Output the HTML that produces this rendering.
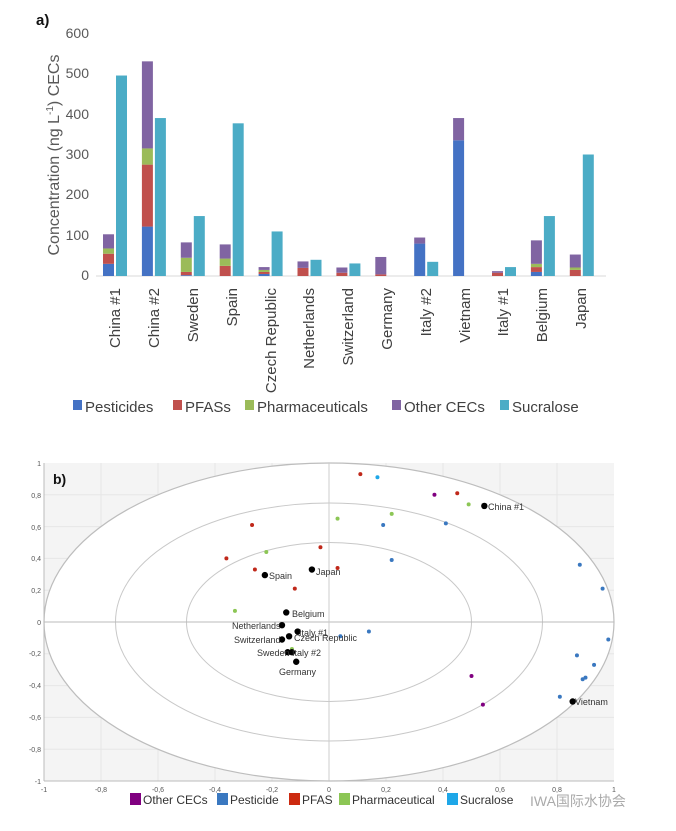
<!DOCTYPE html>
<html><head><meta charset="utf-8"><style>
html,body{margin:0;padding:0;background:#fff;}
svg{display:block;font-family:"Liberation Sans",sans-serif;}
</style></head><body>
<svg id="s" width="676" height="831" xmlns="http://www.w3.org/2000/svg">
<text x="36" y="25" font-size="15" font-weight="bold" fill="#111">a)</text>
<g font-size="14" fill="#595959" text-anchor="end">
<text x="89" y="38">600</text><text x="89" y="78">500</text><text x="89" y="119">400</text>
<text x="89" y="159">300</text><text x="89" y="199">200</text><text x="89" y="240">100</text><text x="89" y="280">0</text>
</g>
<text transform="translate(59,155) rotate(-90)" font-size="16" fill="#595959" text-anchor="middle">Concentration (ng L<tspan font-size="10" dy="-6">-1</tspan><tspan dy="6">) CECs</tspan></text>
<line x1="96" y1="276" x2="606" y2="276" stroke="#d9d9d9"/>
<g id="bars"></g>
<g font-size="15" fill="#404040" text-anchor="end" id="xl">
<text transform="translate(120,288) rotate(-90)">China #1</text>
<text transform="translate(159,288) rotate(-90)">China #2</text>
<text transform="translate(198,288) rotate(-90)">Sweden</text>
<text transform="translate(237,288) rotate(-90)">Spain</text>
<text transform="translate(276,288) rotate(-90)">Czech Republic</text>
<text transform="translate(314,288) rotate(-90)">Netherlands</text>
<text transform="translate(353,288) rotate(-90)">Switzerland</text>
<text transform="translate(392,288) rotate(-90)">Germany</text>
<text transform="translate(431,288) rotate(-90)">Italy #2</text>
<text transform="translate(470,288) rotate(-90)">Vietnam</text>
<text transform="translate(508,288) rotate(-90)">Italy #1</text>
<text transform="translate(547,288) rotate(-90)">Belgium</text>
<text transform="translate(586,288) rotate(-90)">Japan</text>
</g>
<g font-size="15" fill="#404040">
<rect x="73" y="400" width="9" height="10" fill="#4472c4"/><text x="85" y="412">Pesticides</text>
<rect x="173" y="400" width="9" height="10" fill="#c0504d"/><text x="185" y="412">PFASs</text>
<rect x="245" y="400" width="9" height="10" fill="#9bbb59"/><text x="257" y="412">Pharmaceuticals</text>
<rect x="392" y="400" width="9" height="10" fill="#8064a2"/><text x="404" y="412">Other CECs</text>
<rect x="500" y="400" width="9" height="10" fill="#4bacc6"/><text x="512" y="412">Sucralose</text>
</g>

<!-- chart b -->
<rect x="44" y="463" width="570" height="318" fill="#f4f4f4"/>
<g stroke="#e6e6e6" stroke-width="1" id="grid"></g>
<ellipse cx="329" cy="622" rx="285" ry="159" fill="#fff" stroke="#bdbdbd" stroke-width="1.2"/>
<ellipse cx="329" cy="622" rx="213.5" ry="119" fill="none" stroke="#c8c8c8"/>
<ellipse cx="329" cy="622" rx="142.5" ry="79.5" fill="none" stroke="#c8c8c8"/>
<line x1="44" y1="622" x2="614" y2="622" stroke="#bbb"/>
<line x1="329" y1="463" x2="329" y2="781" stroke="#ccc"/>
<line x1="44" y1="463" x2="44" y2="781" stroke="#bbb"/>
<line x1="44" y1="781" x2="614" y2="781" stroke="#bbb"/>
<text x="53" y="484" font-size="14" font-weight="bold" fill="#111">b)</text>
<g font-size="7" fill="#555" text-anchor="end">
<text x="41" y="466">1</text><text x="41" y="498">0,8</text><text x="41" y="530">0,6</text><text x="41" y="561">0,4</text>
<text x="41" y="593">0,2</text><text x="41" y="625">0</text><text x="41" y="656">-0,2</text><text x="41" y="688">-0,4</text>
<text x="41" y="720">-0,6</text><text x="41" y="752">-0,8</text><text x="41" y="784">-1</text>
</g>
<g font-size="7" fill="#555" text-anchor="middle">
<text x="44" y="792">-1</text><text x="101" y="792">-0,8</text><text x="158" y="792">-0,6</text><text x="215" y="792">-0,4</text>
<text x="272" y="792">-0,2</text><text x="329" y="792">0</text><text x="386" y="792">0,2</text><text x="443" y="792">0,4</text>
<text x="500" y="792">0,6</text><text x="557" y="792">0,8</text><text x="614" y="792">1</text>
</g>
<g id="pts"></g>
<g font-size="9" fill="#333">
<text x="488" y="510">China #1</text>
<text x="316" y="575">Japan</text>
<text x="269" y="579">Spain</text>
<text x="292" y="617">Belgium</text>
<text x="232" y="629">Netherlands</text>
<text x="299" y="636">Italy #1</text>
<text x="294" y="641">Czech Republic</text>
<text x="234" y="643">Switzerland</text>
<text x="257" y="656">Sweden</text>
<text x="292" y="656">Italy #2</text>
<text x="279" y="675">Germany</text>
<text x="575" y="705">Vietnam</text>
</g>
<g font-size="12" fill="#333">
<rect x="130" y="793" width="11" height="12" fill="#800080"/><text x="143" y="804">Other CECs</text>
<rect x="217" y="793" width="11" height="12" fill="#3a78c0"/><text x="230" y="804">Pesticide</text>
<rect x="289" y="793" width="11" height="12" fill="#cc2a10"/><text x="302" y="804">PFAS</text>
<rect x="339" y="793" width="11" height="12" fill="#8cc655"/><text x="352" y="804">Pharmaceutical</text>
<rect x="447" y="793" width="11" height="12" fill="#1ea7e8"/><text x="460" y="804">Sucralose</text>
<text x="530" y="806" font-size="14" fill="#aaa" font-family="'Liberation Sans','Noto Sans CJK SC',sans-serif">IWA国际水协会</text>
</g>
</svg>
<script>
var NS="http://www.w3.org/2000/svg";
function el(p,t,a){var e=document.createElementNS(NS,t);for(var k in a)e.setAttribute(k,a[k]);p.appendChild(e);return e;}
var cols=["#4472c4","#c0504d","#9bbb59","#8064a2"];
var d=[[30,25,13,35,495],[122,153,40,215,390],[2,8,35,38,148],[0,25,18,35,377],[5,5,5,7,110],[0,20,0,16,40],[0,8,0,13,31],[0,4,0,43,0],[80,0,0,15,35],[335,0,0,55,0],[0,8,0,4,22],[10,12,8,58,148],[0,15,6,32,300]];
var bg=document.getElementById("bars"),k=243/600;
d.forEach(function(r,i){var x=103+i*38.9,y=276;
for(var j=0;j<4;j++){if(r[j]){var h=r[j]*k;y-=h;el(bg,"rect",{x:x,y:y,width:11,height:h,fill:cols[j]});}}
if(r[4]){var h=r[4]*k;el(bg,"rect",{x:x+13,y:276-h,width:11,height:h,fill:"#4bacc6"});}});
var g=document.getElementById("grid");
for(var i=1;i<10;i++){var x=44+i*57;el(g,"line",{x1:x,y1:463,x2:x,y2:781});var y=463+i*31.8;el(g,"line",{x1:44,y1:y,x2:614,y2:y});}
function X(v){return 329+v*285;}function Y(v){return 622-v*159;}
var P=document.getElementById("pts");
var sets=[["#c0281a",[[0.11,0.93],[0.45,0.81],[-0.27,0.61],[-0.36,0.40],[-0.03,0.47],[-0.26,0.33],[0.03,0.34],[-0.12,0.21]]],
["#1ea7e8",[[0.17,0.91]]],
["#800080",[[0.37,0.80],[0.50,-0.34],[0.54,-0.52]]],
["#8cc655",[[0.49,0.74],[0.22,0.68],[0.03,0.65],[-0.22,0.44],[-0.33,0.07],[-0.13,-0.17]]],
["#3a78c0",[[0.19,0.61],[0.41,0.62],[0.22,0.39],[0.88,0.36],[0.96,0.21],[0.14,-0.06],[0.98,-0.11],[0.87,-0.21],[0.93,-0.27],[0.90,-0.35],[0.89,-0.36],[0.81,-0.47],[0.04,-0.09]]]];
sets.forEach(function(s){s[1].forEach(function(p){el(P,"circle",{cx:X(p[0]),cy:Y(p[1]),r:2,fill:s[0]});});});
[[0.545,0.73],[-0.06,0.33],[-0.225,0.295],[-0.15,0.06],[-0.165,-0.02],[-0.11,-0.06],[-0.14,-0.09],[-0.165,-0.11],[-0.145,-0.19],[-0.13,-0.19],[-0.115,-0.25],[0.855,-0.50]].forEach(function(p){el(P,"circle",{cx:X(p[0]),cy:Y(p[1]),r:3.2,fill:"#000"});});
</script>
</body></html>
